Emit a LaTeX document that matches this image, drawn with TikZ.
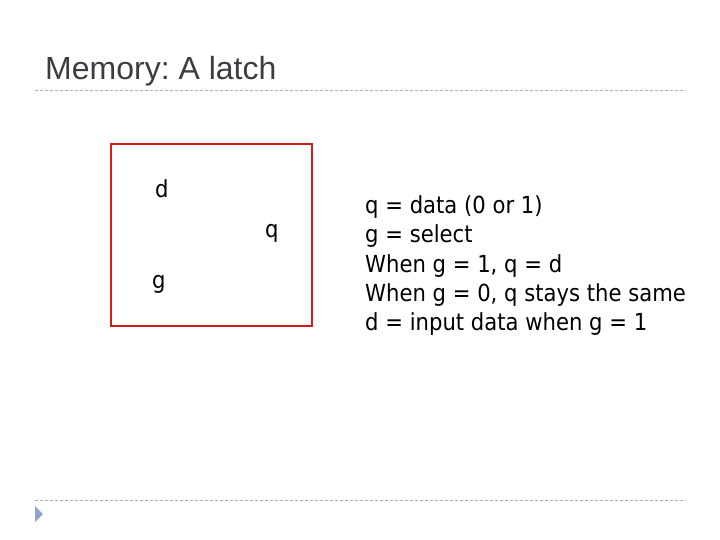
\documentclass[tikz,border=0pt]{standalone}
\usepackage{fontspec}
\setmainfont{Liberation Sans}
\newfontfamily\bodyfont[FakeStretch=0.9]{DejaVu Sans}
\definecolor{titlegray}{RGB}{60,60,66}
\definecolor{rulegray}{RGB}{176,176,180}
\definecolor{boxred}{RGB}{208,28,28}
\definecolor{bulletblue}{RGB}{140,165,200}
\frenchspacing

\begin{document}
\begin{tikzpicture}[x=1pt, y=-1pt, line cap=rect,
  body/.style={font=\bodyfont\fontsize{23.5}{28}\selectfont, inner sep=0pt, anchor=base west}]
  \useasboundingbox (0,0) rectangle (720,540);
  % title and rules
  \node[font=\fontsize{32}{36}\selectfont, text=titlegray, inner sep=0pt, anchor=base west] (title) at (45,80) {Memory: A latch};
  \draw[rulegray, dashed, dash pattern=on 3pt off 2pt, line width=0.8pt] (35,90) -- (685,90);
  \draw[rulegray, dashed, dash pattern=on 3pt off 2pt, line width=0.8pt] (35,500) -- (685,500);
  \fill[bulletblue] (35,506) -- (43,514) -- (35,522) -- cycle;
  % the latch box
  \draw[boxred, line width=2.5pt] (111,144) rectangle (312,326);
  \node[body] (d) at (155,197) {d};
  \node[body] (q) at (265,237) {q};
  \node[body] (g) at (152,288) {g};
  % what the signals mean
  \node[body] (l1) at (365,214) {q = data (0 or 1)};
  \node[body] (l2) at (365,243) {g = select};
  \node[body] (l3) at (365,272) {When g = 1, q = d};
  \node[body] (l4) at (365,301) {When g = 0, q stays the same};
  \node[body] (l5) at (365,330) {d = input data when g = 1};
\end{tikzpicture}
\end{document}
